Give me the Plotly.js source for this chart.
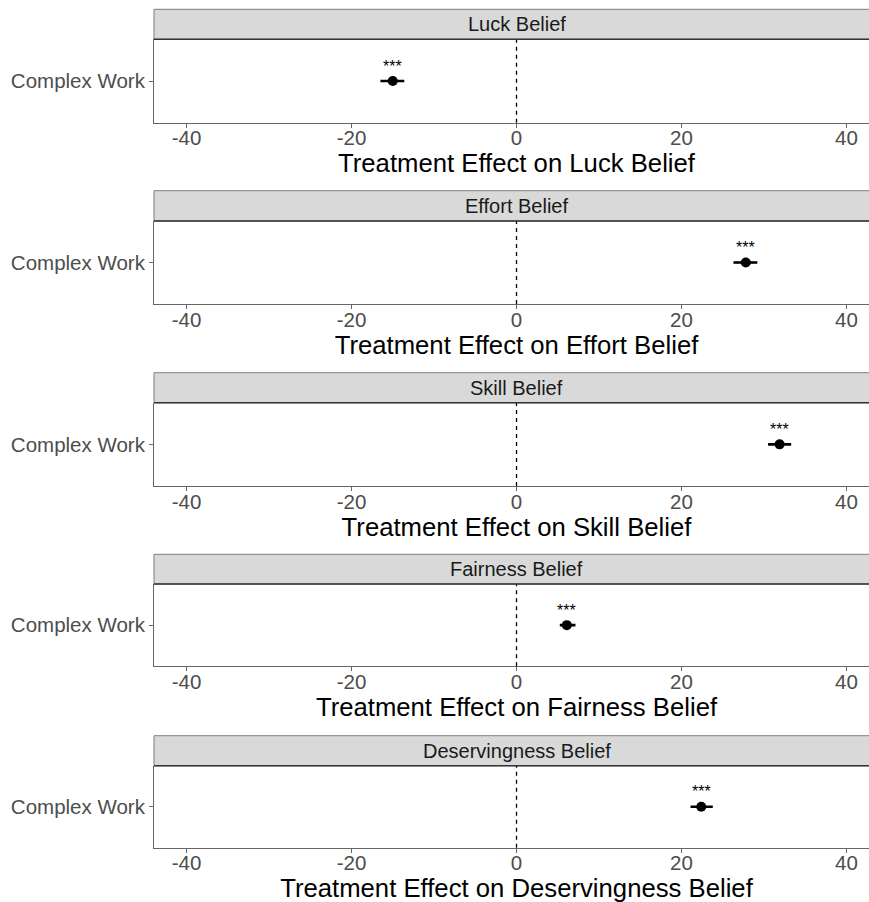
<!DOCTYPE html>
<html>
<head>
<meta charset="utf-8">
<script src="https://cdn.plot.ly/plotly-3.0.1.min.js"></script>
<style>html,body{margin:0;padding:0;background:#fff;overflow:hidden;}#chart{width:879px;height:902px;}</style>
</head>
<body>
<div id="chart"></div>
<script>
// ---- data ----
const beliefs = ['Luck Belief', 'Effort Belief', 'Skill Belief', 'Fairness Belief', 'Deservingness Belief'];
const axisTitles = ['Treatment Effect on Luck Belief', 'Treatment Effect on Effort Belief', 'Treatment Effect on Skill Belief', 'Treatment Effect on Fairness Belief', 'Treatment Effect on Deservingness Belief'];
const category = 'Complex Work';
const estimates = [-15.0, 27.8, 31.9, 6.1, 22.4];
const ciLow = [-16.5, 26.3, 30.5, 5.25, 21.1];
const ciHigh = [-13.6, 29.2, 33.3, 7.15, 23.8];
const stars = ['***', '***', '***', '***', '***'];
const xTicks = [-40, -20, 0, 20, 40];
const xRange = [-43.95, 43.95];

// ---- layout geometry (pixels) ----
const H = 902;
const stripTop = [9.3, 190.7, 372.7, 554.3, 735.7];
const panelTop = [39.3, 221, 402.7, 584, 765.7];
const panelBot = [122.7, 304, 486, 666.3, 847.7];
const fy = px => 1 - px / H;

const FONT = 'Liberation Sans, Arial, sans-serif';
const traces = [];
const layout = {
  width: 879, height: 902,
  margin: {l: 154, r: 0, t: 0, b: 0},
  paper_bgcolor: '#fff', plot_bgcolor: '#fff',
  showlegend: false,
  font: {family: FONT},
  shapes: [], annotations: []
};

beliefs.forEach((b, i) => {
  const n = i + 1;
  const xa = n === 1 ? 'x' : 'x' + n;
  const ya = n === 1 ? 'y' : 'y' + n;
  traces.push({
    type: 'scatter', mode: 'markers',
    x: [estimates[i]], y: [category],
    xaxis: xa, yaxis: ya,
    marker: {color: '#000', size: 10},
    error_x: {type: 'data', symmetric: false,
      array: [ciHigh[i] - estimates[i]], arrayminus: [estimates[i] - ciLow[i]],
      color: '#000', thickness: 2.6, width: 0},
    hoverinfo: 'skip'
  });
  layout['xaxis' + (n === 1 ? '' : n)] = {
    domain: [0, 1], anchor: ya, range: xRange,
    tickvals: xTicks, ticktext: xTicks.map(String),
    showgrid: false, zeroline: false,
    showline: true, linecolor: '#666', linewidth: 1,
    ticks: 'outside', ticklen: 4, tickcolor: '#666', tickwidth: 1,
    ticklabelstandoff: -7,
    tickfont: {size: 20.5, color: '#4d4d4d', family: FONT},
    title: {text: axisTitles[i], font: {size: 25.7, color: '#000', family: FONT}, standoff: 0}
  };
  layout['yaxis' + (n === 1 ? '' : n)] = {
    domain: [fy(panelBot[i]), fy(panelTop[i])], anchor: xa,
    type: 'category', range: [-0.6, 0.6],
    showgrid: false, zeroline: false,
    showline: true, linecolor: '#666', linewidth: 1,
    ticks: 'outside', ticklen: 4, tickcolor: '#666', tickwidth: 1,
    tickfont: {size: 20.5, color: '#4d4d4d', family: FONT}
  };
  // dashed zero line
  layout.shapes.push({type: 'line', xref: xa, yref: ya + ' domain', x0: 0, x1: 0, y0: 0, y1: 1,
    line: {color: '#000', width: 1.3, dash: '4px,4px'}});
  // strip background
  layout.shapes.push({type: 'rect', xref: 'paper', yref: 'paper', x0: 0, x1: 1,
    y0: fy(panelTop[i]), y1: fy(stripTop[i]), fillcolor: '#d9d9d9',
    line: {color: '#7f7f7f', width: 1}, layer: 'below'});
  layout.shapes.push({type: 'line', xref: 'paper', yref: 'paper', x0: 0, x1: 1,
    y0: fy(panelTop[i]), y1: fy(panelTop[i]), line: {color: '#333', width: 1.5}});
  layout.annotations.push({xref: 'paper', yref: 'paper', x: 0.5, y: fy((stripTop[i] + panelTop[i]) / 2),
    text: b, showarrow: false, xanchor: 'center', yanchor: 'middle',
    font: {size: 20, color: '#1a1a1a', family: FONT}});
  // significance stars
  layout.annotations.push({xref: xa, yref: ya, x: estimates[i], y: category,
    text: stars[i], showarrow: false, yshift: 15, xanchor: 'center', yanchor: 'middle',
    font: {size: 16, color: '#000', family: FONT}});
});

Plotly.newPlot('chart', traces, layout, {displayModeBar: false, staticPlot: true});
</script>
</body>
</html>
